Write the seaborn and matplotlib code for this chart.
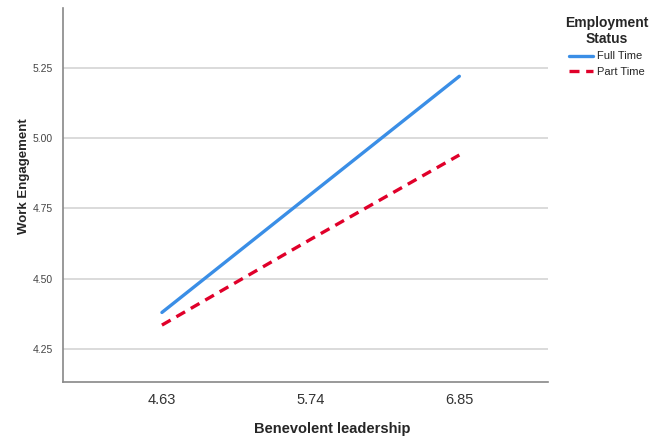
import numpy as np
import pandas as pd
import matplotlib
matplotlib.use("Agg")
import matplotlib.pyplot as plt
import seaborn as sns

# ── data ──────────────────────────────────────────────────
leadership = [4.63, 5.74, 6.85]
full_time = [4.38, 4.80, 5.22]
part_time = [4.335, 4.64, 4.94]
groups = ["Full Time", "Part Time"]
y_ticks = [4.25, 4.50, 4.75, 5.00, 5.25]

df = pd.DataFrame({
    "Benevolent leadership": leadership * 2,
    "Work Engagement": full_time + part_time,
    "Employment Status": [groups[0]] * 3 + [groups[1]] * 3,
})

sns.set_theme(style="white")
plt.rcParams['font.family'] = ['Liberation Sans', 'DejaVu Sans']

fig = plt.figure(figsize=(6.68, 4.42), dpi=100)
ax = fig.add_axes([0.094, 0.136, 0.726, 0.846])

ax = sns.lineplot(
    data=df, x="Benevolent leadership", y="Work Engagement",
    hue="Employment Status", style="Employment Status",
    palette={"Full Time": "#3a8ee6", "Part Time": "#e0002a"},
    dashes={"Full Time": "", "Part Time": (3, 2)},
    linewidth=2.4, ax=ax,
)

ax.set_xlim(3.89, 7.51)
ax.set_ylim(4.133, 5.463)
ax.set_xticks(leadership)
ax.set_xticklabels([f"{v:.2f}" for v in leadership], fontsize=10.5, color="#333333")
ax.set_yticks(y_ticks)
ax.set_yticklabels([f"{v:.2f}" for v in y_ticks], fontsize=7.5, color="#444444")
ax.tick_params(axis="x", length=0, pad=8)
ax.tick_params(axis="y", length=0, pad=7)

for v in y_ticks:
    ax.axhline(v, color="#d4d4d4", linewidth=1.2, zorder=0)

for side in ["top", "right"]:
    ax.spines[side].set_visible(False)
for side in ["left", "bottom"]:
    ax.spines[side].set_color("#888888")
    ax.spines[side].set_linewidth(1.2)

ax.set_xlabel("Benevolent leadership", fontsize=10.5, fontweight="bold")
ax.set_ylabel("Work Engagement", fontsize=9.5, fontweight="bold")
ax.xaxis.set_label_coords(0.555, -0.107)
ax.yaxis.set_label_coords(-0.068, 0.55)

leg = ax.legend(
    title="Employment\nStatus", loc="upper left", bbox_to_anchor=(1.02, 1.0),
    frameon=False, fontsize=8, handlelength=2.2, handletextpad=0.35,
    borderaxespad=0.3,
)
leg.get_title().set_fontweight("bold")
leg.get_title().set_fontsize(10)
leg.get_title().set_multialignment("center")
leg._legend_box.align = "center"

fig.savefig("out.png", dpi=100)
